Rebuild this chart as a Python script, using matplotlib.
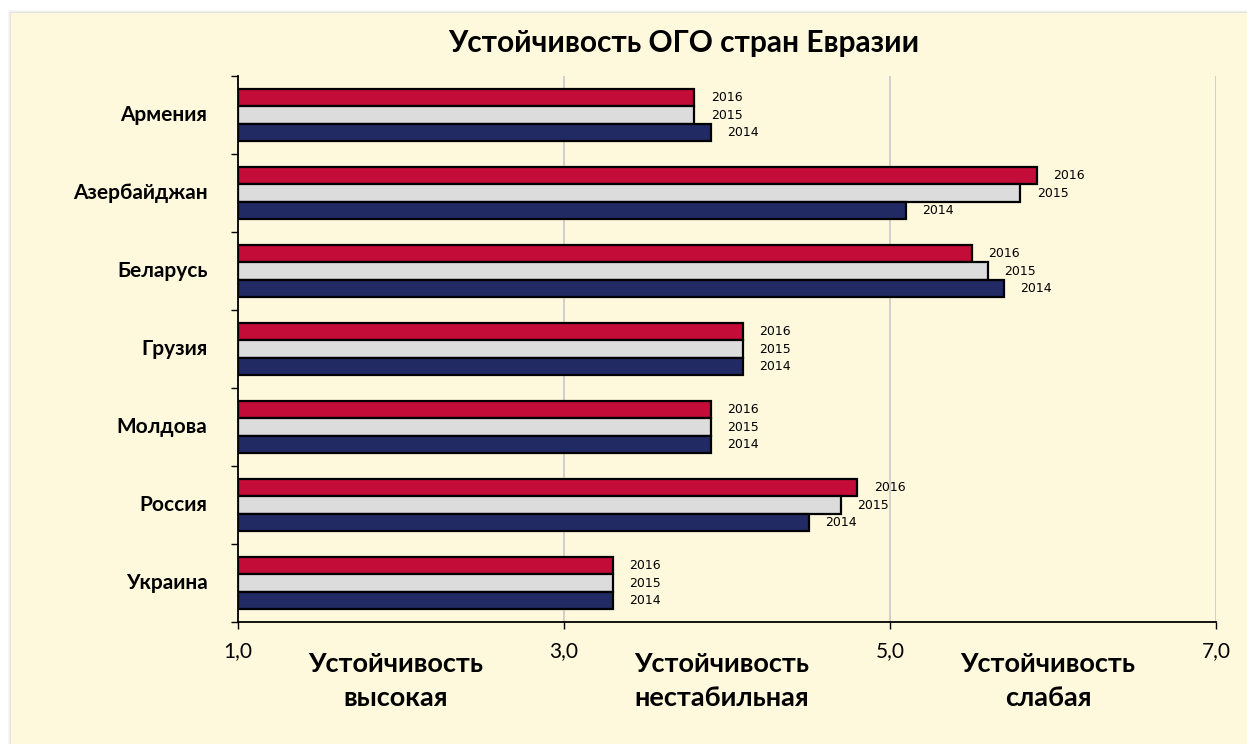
import matplotlib.pyplot as plt
import numpy as np
from matplotlib.patches import Rectangle

# data
countries = ["Армения", "Азербайджан", "Беларусь", "Грузия", "Молдова", "Россия", "Украина"]
years = ["2016", "2015", "2014"]
v2016 = [3.8, 5.9, 5.5, 4.1, 3.9, 4.8, 3.3]
v2015 = [3.8, 5.8, 5.6, 4.1, 3.9, 4.7, 3.3]
v2014 = [3.9, 5.1, 5.7, 4.1, 3.9, 4.5, 3.3]
x_ticks = [1, 3, 5, 7]
zones = ["Устойчивость\nвысокая", "Устойчивость\nнестабильная", "Устойчивость\nслабая"]

colors = ["#C30C38", "#DCDCDC", "#212A63"]
bg = "#FEF9DC"

fig = plt.figure(figsize=(12.47, 7.44), dpi=100)
fig.patch.set_facecolor("white")

# panel with a soft shadow on top/left
for i, a in enumerate([0.05, 0.07, 0.09]):
    fig.add_artist(Rectangle(((8 + i) / 1247, 0), 1, (734 - i) / 744,
                             transform=fig.transFigure, facecolor="#808080",
                             alpha=a, edgecolor="none", zorder=0))
fig.add_artist(Rectangle((11 / 1247, 0), 1, 731 / 744, transform=fig.transFigure,
                         facecolor=bg, edgecolor="none", zorder=0))

ax = fig.add_axes([238 / 1247, 1 - 622 / 744, (1216 - 238) / 1247, (622 - 76) / 744])
ax.set_facecolor("none")

n = len(countries)
h = 0.225
y = np.arange(n)
series = [v2016, v2015, v2014]
for k, vals in enumerate(series):
    pos = y + (k - 1) * h
    ax.barh(pos, np.array(vals) - 1, left=1, height=h, color=colors[k],
            edgecolor="black", linewidth=1.6, zorder=3)
    for p, v in zip(pos, vals):
        ax.text(v + 0.1, p, years[k], va="center", ha="left",
                fontsize=9, family="DejaVu Sans", color="black")

ax.set_xlim(1, 7)
ax.set_ylim(n - 0.5, -0.5)
ax.set_xticks(x_ticks)
ax.set_xticklabels([f"{t},0" for t in x_ticks], fontsize=15, family="Lato")
ax.tick_params(axis="x", length=5, width=1, pad=9, direction="out")
ax.xaxis.grid(True, color="#C8C8C8", linewidth=1.2, zorder=0)

ax.set_yticks(np.arange(-0.5, n, 1.0))
ax.set_yticklabels([])
ax.set_yticks(y - 0.03, minor=True)
ax.set_yticklabels(countries, minor=True, fontsize=15, fontweight="bold", family="Lato")
ax.tick_params(axis="y", which="major", length=5, width=1)
ax.tick_params(axis="y", which="minor", length=0, pad=22)

for s in ["top", "right"]:
    ax.spines[s].set_visible(False)
for s in ["left", "bottom"]:
    ax.spines[s].set_linewidth(1.3)

# zone captions centred between the x ticks
for i, zt in enumerate(zones):
    zx = (x_ticks[i] + x_ticks[i + 1]) / 2 - 0.03
    ax.text(zx, -0.055, zt, transform=ax.get_xaxis_transform(), ha="center", va="top",
            fontsize=19.5, fontweight="bold", family="Lato", linespacing=1.5)

fig.text(684 / 1247, 1 - 43 / 744, "Устойчивость ОГО стран Евразии", ha="center",
         va="center", fontsize=21.5, fontweight="bold", family="Lato")

fig.savefig("out.png", dpi=100, facecolor=fig.get_facecolor())
